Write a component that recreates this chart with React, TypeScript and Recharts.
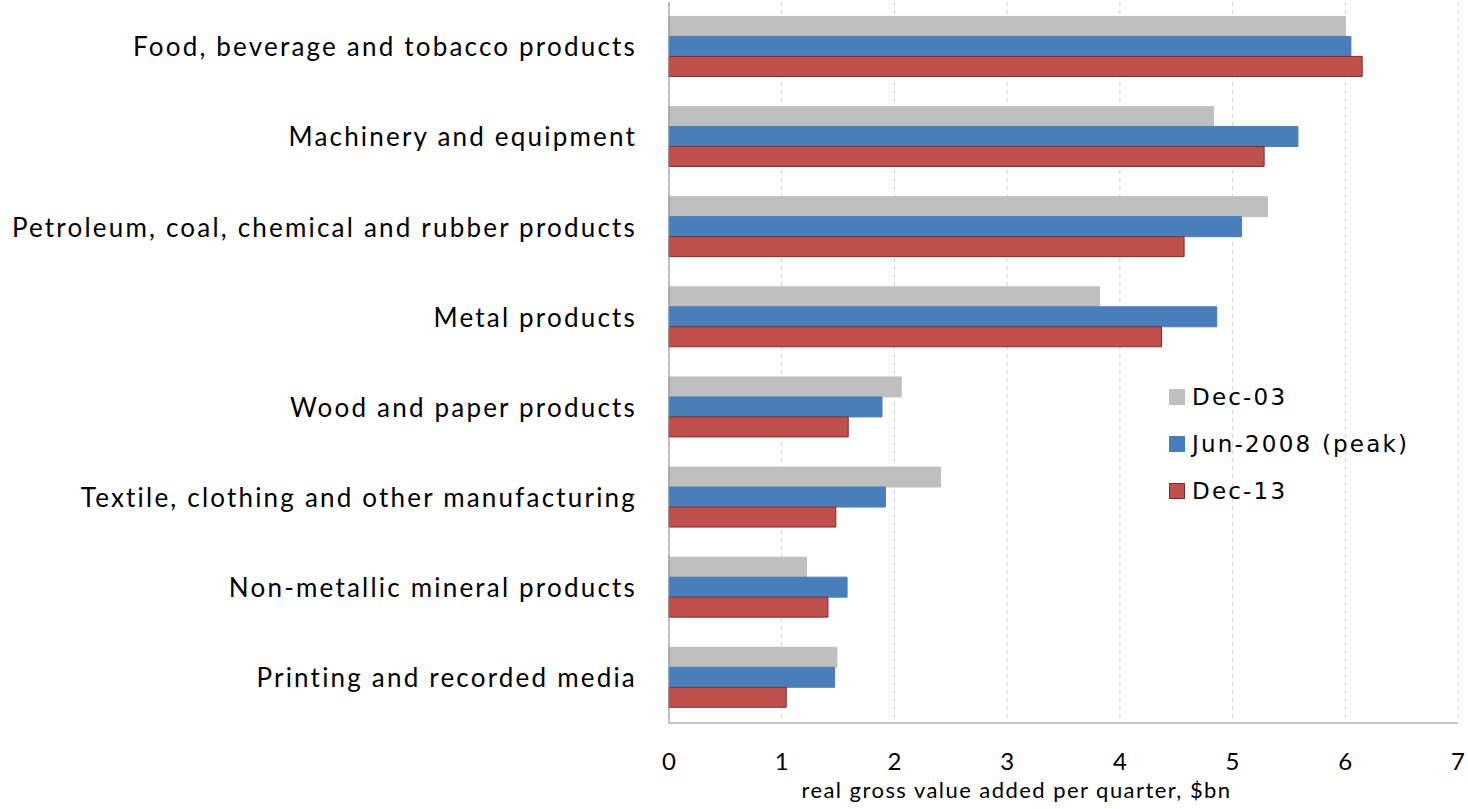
import React from 'react';
import { Bar, BarChart, CartesianGrid, XAxis, YAxis } from 'recharts';

const categories = [
  'Food, beverage and tobacco products',
  'Machinery and equipment',
  'Petroleum, coal, chemical and rubber products',
  'Metal products',
  'Wood and paper products',
  'Textile, clothing and other manufacturing',
  'Non-metallic mineral products',
  'Printing and recorded media',
];

const dec03 = [6.0, 4.83, 5.31, 3.82, 2.06, 2.41, 1.22, 1.49];
const jun08 = [6.05, 5.58, 5.08, 4.86, 1.89, 1.92, 1.58, 1.47];
const dec13 = [6.15, 5.28, 4.57, 4.37, 1.59, 1.48, 1.41, 1.04];

const xTicks = [0, 1, 2, 3, 4, 5, 6, 7];

const series = [
  { key: 'dec03', name: 'Dec-03', color: '#bfbfbf', stroke: '#bfbfbf' },
  { key: 'jun08', name: 'Jun-2008 (peak)', color: '#4a7ebb', stroke: '#4a7ebb' },
  { key: 'dec13', name: 'Dec-13', color: '#c0504d', stroke: '#7a2e2c' },
];

const data = categories.map((name, i) => ({
  name,
  dec03: dec03[i],
  jun08: jun08[i],
  dec13: dec13[i],
}));

const labelFont = 'Lato, Calibri, sans-serif';

// legend drawn on top of the chart, so it doesn't eat into the plot margins
function LegendBox() {
  return (
    <div
      style={{
        position: 'absolute',
        left: 1169,
        top: 373,
        fontFamily: '"DejaVu Sans", Verdana, sans-serif',
        fontSize: 23,
        letterSpacing: 2.2,
        color: '#000',
      }}
    >
      {series.map((s) => (
        <div key={s.key} style={{ display: 'flex', alignItems: 'center', height: 47 }}>
          <span
            style={{
              display: 'inline-block',
              width: 16,
              height: 16,
              background: s.color,
              border: `1px solid ${s.stroke}`,
              boxSizing: 'border-box',
              marginRight: 7,
            }}
          />
          <span>{s.name}</span>
        </div>
      ))}
    </div>
  );
}

export default function App() {
  return (
    <div style={{ position: 'absolute', left: 0, top: 0, width: 1468, height: 809, background: '#fff' }}>
      <BarChart
        width={1468}
        height={809}
        data={data}
        layout="vertical"
        margin={{ top: 2, right: 10, left: 0, bottom: 0 }}
        barCategoryGap="16%"
        barGap={0}
      >
        <CartesianGrid horizontal={false} stroke="#d0d0d0" strokeDasharray="4 4" />
        <XAxis
          type="number"
          domain={[0, 7]}
          ticks={xTicks}
          height={86}
          axisLine={{ stroke: '#8c8c8c' }}
          tickLine={false}
          tickMargin={24}
          tick={{ fill: '#000', fontSize: 24, fontFamily: labelFont }}
          label={{
            value: 'real gross value added per quarter, $bn',
            position: 'insideBottom',
            offset: 11,
            dx: -47,
            style: { fill: '#000', fontSize: 22, letterSpacing: 1.45, fontFamily: labelFont },
          }}
        />
        <YAxis
          type="category"
          dataKey="name"
          width={669}
          axisLine={{ stroke: '#8c8c8c' }}
          tickLine={false}
          tickMargin={26}
          tick={{ fill: '#000', fontSize: 26, letterSpacing: 2.2, fontFamily: labelFont }}
          interval={0}
        />
        {series.map((s) => (
          <Bar
            key={s.key}
            dataKey={s.key}
            name={s.name}
            fill={s.color}
            stroke={s.stroke}
            strokeWidth={1}
            isAnimationActive={false}
          />
        ))}
      </BarChart>
      <LegendBox />
    </div>
  );
}
